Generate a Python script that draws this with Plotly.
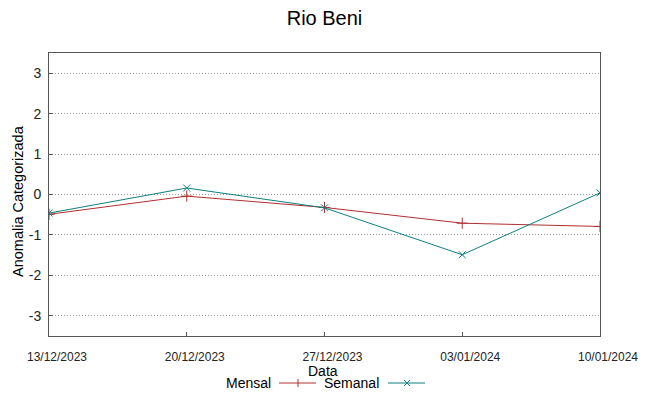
import plotly.graph_objects as go

dates = ["2023-12-13", "2023-12-20", "2023-12-27", "2024-01-03", "2024-01-10"]
mensal = [-0.49, -0.04, -0.32, -0.71, -0.79]
semanal = [-0.46, 0.16, -0.33, -1.49, 0.04]
tick_labels = ["13/12/2023", "20/12/2023", "27/12/2023", "03/01/2024", "10/01/2024"]
y_ticks = [-3, -2, -1, 0, 1, 2, 3]
y_tick_labels = ["-3", "-2", "-1", "0", "1", "2", "3"]

RED = "#b03030"
TEAL = "#0f7f7f"
OFF = 8  # page body margin
W, H = 648 - OFF, 396 - OFF
L, R, T, B = 49 - OFF, 48, 53 - OFF, 60
pw, ph = W - L - R, H - T - B

def px(x):
    return (x - OFF - L) / pw

def py(y):
    return (H - B - (y - OFF)) / ph

fig = go.Figure()
fig.add_trace(go.Scatter(x=dates, y=mensal, mode="lines+markers", name="Mensal",
                         line=dict(color=RED, width=1),
                         marker=dict(symbol="cross-thin", size=8, line=dict(color=RED, width=1))))
fig.add_trace(go.Scatter(x=dates, y=semanal, mode="lines+markers", name="Semanal",
                         line=dict(color=TEAL, width=1),
                         marker=dict(symbol="x-thin", size=7, line=dict(color=TEAL, width=1))))

font = "Liberation Sans, Arial, sans-serif"

fig.update_layout(
    width=W, height=H,
    margin=dict(l=L, r=R, t=T, b=B, autoexpand=False),
    paper_bgcolor="white", plot_bgcolor="white",
    showlegend=False,
    font=dict(family=font, color="#000000"),
    title=dict(text="Rio Beni", x=(L + pw / 2) / W, xanchor="center", y=1 - (18 - OFF) / H, yanchor="middle",
               font=dict(size=20, family=font), automargin=False),
    xaxis=dict(type="date", range=[dates[0], dates[-1]],
               tickvals=dates, ticktext=tick_labels,
               ticks="inside", ticklen=4, tickcolor="#555", tickwidth=1,
               showgrid=False, zeroline=False, automargin=False,
               showline=True, linecolor="#555", linewidth=1, mirror=True,
               tickfont=dict(size=12, color="#222"), ticklabelstandoff=10, ticklabelshift=8),
    yaxis=dict(range=[-3.5, 3.5], tickvals=y_ticks, ticktext=y_tick_labels,
               ticks="inside", ticklen=4, tickcolor="#555",
               showgrid=True, gridcolor="#9a9a9a", griddash="1px,2px", gridwidth=1,
               zeroline=False, automargin=False,
               showline=True, linecolor="#555", linewidth=1, mirror=True,
               tickfont=dict(size=14, color="#222"), ticklabelstandoff=4),
)

# axis titles
fig.add_annotation(x=px(323), y=py(371), xref="paper", yref="paper", text="Data", showarrow=False,
                   xanchor="center", yanchor="middle", font=dict(size=14))
fig.add_annotation(x=px(18), y=py(201), xref="paper", yref="paper", text="Anomalia Categorizada",
                   showarrow=False, textangle=-90, xanchor="center", yanchor="middle", font=dict(size=14.5))

# manual gnuplot-style legend (text then sample)
ly = py(383)
fig.add_annotation(x=px(273), y=ly, xref="paper", yref="paper", text="Mensal", showarrow=False,
                   xanchor="right", yanchor="middle", font=dict(size=14))
fig.add_annotation(x=px(381), y=ly, xref="paper", yref="paper", text="Semanal", showarrow=False,
                   xanchor="right", yanchor="middle", font=dict(size=14))
fig.add_shape(type="line", xref="paper", yref="paper", x0=px(279), x1=px(316), y0=ly, y1=ly,
              line=dict(color=RED, width=1))
fig.add_shape(type="line", xref="paper", yref="paper", x0=px(298), x1=px(298), y0=py(379), y1=py(387),
              line=dict(color=RED, width=1))
fig.add_shape(type="line", xref="paper", yref="paper", x0=px(388), x1=px(425), y0=ly, y1=ly,
              line=dict(color=TEAL, width=1))
fig.add_shape(type="line", xref="paper", yref="paper", x0=px(404), x1=px(410), y0=py(380), y1=py(386),
              line=dict(color=TEAL, width=1))
fig.add_shape(type="line", xref="paper", yref="paper", x0=px(404), x1=px(410), y0=py(386), y1=py(380),
              line=dict(color=TEAL, width=1))

fig.write_html("out.html")
